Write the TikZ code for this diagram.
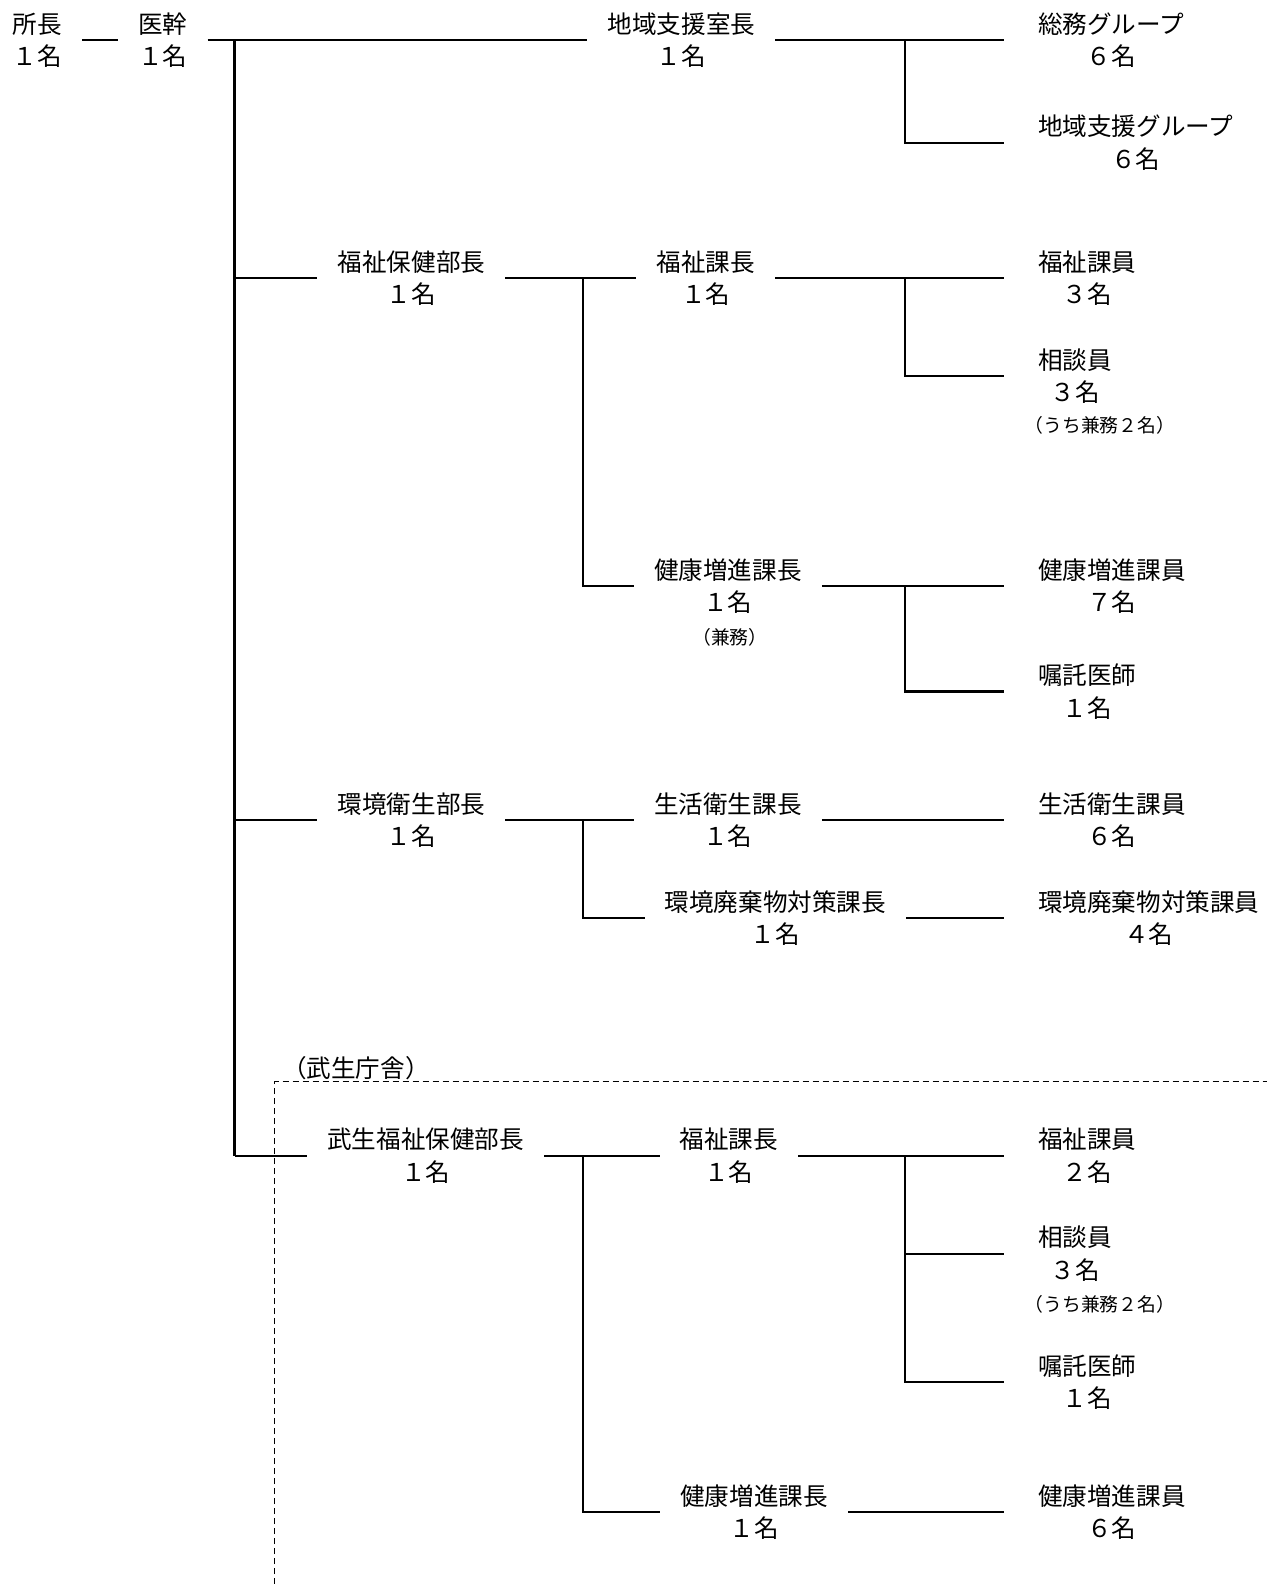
\documentclass[tikz,border=0pt]{standalone}
\usepackage{fontspec}
\setmainfont{Noto Sans CJK JP}
\begin{document}
\begin{tikzpicture}[
    x=1.011pt, y=-1.011pt,
    post/.style={align=center, font=\fontsize{24.6}{32.4}\selectfont, inner xsep=20pt, inner ysep=0pt},
    staff/.style={post, anchor=west, inner xsep=34pt},
    note/.style={font=\fontsize{18.8}{22}\selectfont, inner sep=0pt},
    link/.style={line width=2.1pt},
    area/.style={line width=1pt, dash pattern=on 6pt off 4pt},
  ]
    \useasboundingbox (0,0) rectangle (1253.2,1566.8);

    % Top of the office
    \node[post] (chief) at (37,40) {所長\\１名};
    \node[post] (deputy) at (161,40) {医幹\\１名};
    \node[post] (region) at (674,40) {地域支援室長\\１名};
    \node[staff] (soumu) at (993,40) {総務グループ\\６名};
    \node[staff] (chiiki) at (993,141) {地域支援グループ\\６名};

    % Welfare and health
    \node[post] (fukushibu) at (407,275) {福祉保健部長\\１名};
    \node[post] (fukushika) at (698,275) {福祉課長\\１名};
    \node[staff] (fukushiin) at (993,275) {福祉課員\\３名};
    \node[staff] (soudan) at (993,372) {相談員\\３名};
    \node[note] (soudannote) at (1088,421) {（うち兼務２名）};
    \node[post] (kenkoka) at (720,580) {健康増進課長\\１名};
    \node[note] (kenkonote) at (722,630) {（兼務）};
    \node[staff] (kenkoin) at (993,580) {健康増進課員\\７名};
    \node[staff] (shokutaku) at (993,684) {嘱託医師\\１名};

    % Environment
    \node[post] (kankyobu) at (407,811) {環境衛生部長\\１名};
    \node[post] (seikatsuka) at (720,811) {生活衛生課長\\１名};
    \node[staff] (seikatsuin) at (993,811) {生活衛生課員\\６名};
    \node[post] (haikika) at (767,908) {環境廃棄物対策課長\\１名};
    \node[staff] (haikiin) at (993,908) {環境廃棄物対策課員\\４名};

    % Takefu building
    \node[post] (takefu) at (352,1057) {（武生庁舎）};
    \node[post] (tfukushibu) at (421,1143) {武生福祉保健部長\\１名};
    \node[post] (tfukushika) at (721,1143) {福祉課長\\１名};
    \node[staff] (tfukushiin) at (993,1143) {福祉課員\\２名};
    \node[staff] (tsoudan) at (993,1240) {相談員\\３名};
    \node[note] (tsoudannote) at (1088,1290) {（うち兼務２名）};
    \node[staff] (tshokutaku) at (993,1367) {嘱託医師\\１名};
    \node[post] (tkenkoka) at (746,1496) {健康増進課長\\１名};
    \node[staff] (tkenkoin) at (993,1496) {健康増進課員\\６名};

    % Branch points
    \coordinate (trunk) at (232,40);
    \coordinate (grp) at (895,40);
    \coordinate (dept) at (577,275);
    \coordinate (areatl) at (272,1070);

    % Main line
    \draw[link] (chief.east) -- (deputy.west);
    \draw[link] (deputy.east) -- (region.west);
    \draw[link] (trunk) -- (trunk |- tfukushibu);
    \draw[link] (trunk |- fukushibu) -- (fukushibu.west);
    \draw[link] (trunk |- kankyobu) -- (kankyobu.west);
    \draw[link] (trunk |- tfukushibu) -- (tfukushibu.west);

    \draw[link] (region.east) -- (soumu.west);
    \draw[link] (grp) -- (grp |- chiiki) -- (chiiki.west);

    \draw[link] (fukushibu.east) -- (fukushika.west);
    \draw[link] (dept) -- (dept |- kenkoka) -- (kenkoka.west);
    \draw[link] (fukushika.east) -- (fukushiin.west);
    \draw[link] (grp |- fukushika) -- (grp |- soudan) -- (soudan.west);
    \draw[link] (kenkoka.east) -- (kenkoin.west);
    \draw[link] (grp |- kenkoka) -- (grp |- shokutaku) -- (shokutaku.west);

    \draw[link] (kankyobu.east) -- (seikatsuka.west);
    \draw[link] (dept |- kankyobu) -- (dept |- haikika) -- (haikika.west);
    \draw[link] (seikatsuka.east) -- (seikatsuin.west);
    \draw[link] (haikika.east) -- (haikiin.west);

    \draw[link] (tfukushibu.east) -- (tfukushika.west);
    \draw[link] (dept |- tfukushibu) -- (dept |- tkenkoka) -- (tkenkoka.west);
    \draw[link] (tfukushika.east) -- (tfukushiin.west);
    \draw[link] (grp |- tfukushika) -- (grp |- tshokutaku) -- (tshokutaku.west);
    \draw[link] (grp |- tsoudan) -- (tsoudan.west);
    \draw[link] (tkenkoka.east) -- (tkenkoin.west);

    % Dashed area
    \draw[area] (areatl |- 0,1566.8) -- (areatl) -- (areatl -| 1253.2,0);
  \end{tikzpicture}
\end{document}
